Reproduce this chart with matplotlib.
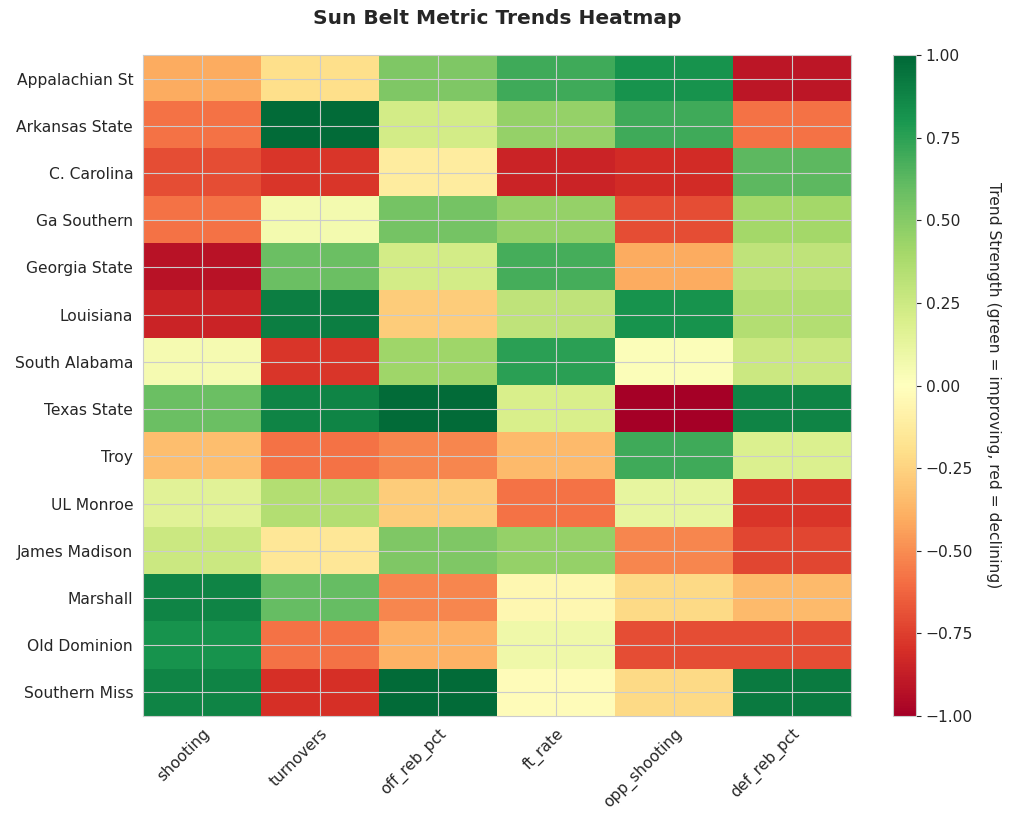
import matplotlib
matplotlib.use("Agg")
import matplotlib.pyplot as plt
import numpy as np
import seaborn as sns

teams = [
    "Appalachian St", "Arkansas State", "C. Carolina", "Ga Southern",
    "Georgia State", "Louisiana", "South Alabama", "Texas State", "Troy",
    "UL Monroe", "James Madison", "Marshall", "Old Dominion", "Southern Miss",
]
metrics = ["shooting", "turnovers", "off_reb_pct", "ft_rate", "opp_shooting", "def_reb_pct"]

shooting = [-0.40, -0.58, -0.70, -0.58, -0.92, -0.85, 0.05, 0.58, -0.33, 0.15, 0.25, 0.88, 0.82, 0.88]
turnovers = [-0.20, 0.98, -0.78, 0.06, 0.58, 0.90, -0.78, 0.88, -0.58, 0.35, -0.15, 0.60, -0.58, -0.80]
off_reb_pct = [0.52, 0.22, -0.12, 0.55, 0.22, -0.28, 0.42, 0.98, -0.52, -0.28, 0.52, -0.52, -0.38, 0.98]
ft_rate = [0.70, 0.45, -0.85, 0.45, 0.68, 0.30, 0.75, 0.20, -0.35, -0.58, 0.45, -0.05, 0.08, -0.02]
opp_shooting = [0.82, 0.70, -0.82, -0.70, -0.40, 0.82, 0.02, -1.00, 0.70, 0.12, -0.52, -0.22, -0.70, -0.22]
def_reb_pct = [-0.90, -0.58, 0.62, 0.40, 0.30, 0.35, 0.25, 0.88, 0.18, -0.78, -0.72, -0.35, -0.70, 0.92]

sns.set_style("whitegrid")

data = np.array([shooting, turnovers, off_reb_pct, ft_rate, opp_shooting, def_reb_pct]).T

fig = plt.figure(figsize=(10.24, 8.24), dpi=100)
ax = fig.add_axes([0.1396, 0.131, 0.6914, 0.8023])
cax = fig.add_axes([0.872, 0.131, 0.0225, 0.8023])

im = ax.imshow(data, cmap="RdYlGn", vmin=-1, vmax=1, aspect="auto")

ax.set_xticks(range(len(metrics)))
ax.set_xticklabels(metrics, rotation=45, ha="right", rotation_mode="anchor", fontsize=11.2)
ax.set_yticks(range(len(teams)))
ax.set_yticklabels(teams, fontsize=11.2)
ax.set_title("Sun Belt Metric Trends Heatmap", fontsize=14.5, fontweight="bold", pad=22)

cbar = fig.colorbar(im, cax=cax)
cbar.set_label("Trend Strength (green = improving, red = declining)", rotation=270,
               labelpad=20, fontsize=11.2)
cbar.ax.tick_params(labelsize=11.2)

plt.savefig("out.png", dpi=100)
